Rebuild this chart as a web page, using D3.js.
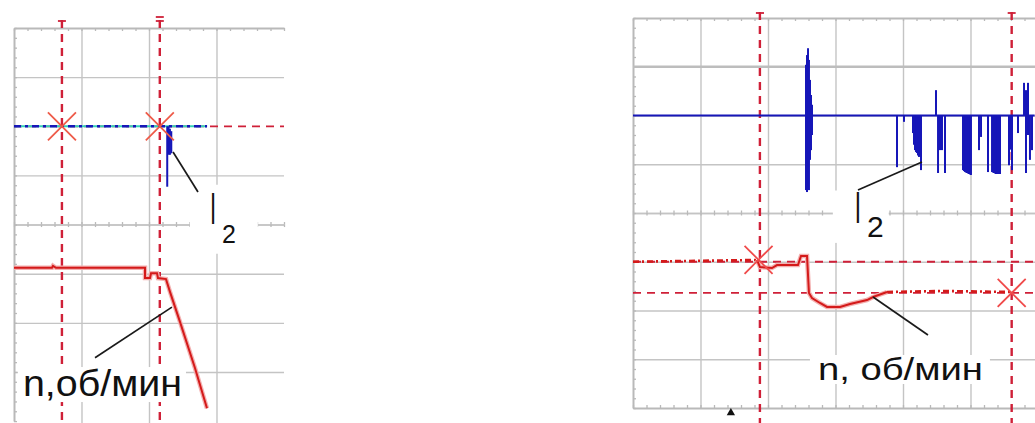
<!DOCTYPE html>
<html><head><meta charset="utf-8">
<script src="https://cdn.jsdelivr.net/npm/d3@7"></script>
<style>
html,body{margin:0;padding:0;background:#fff}
svg{display:block}
.grid line{stroke:#c4c4c4;stroke-width:1.4}
.grid path{display:none}
.edge path{stroke:#b9b9b9;stroke-width:2}
.edge line{stroke:#b9b9b9;stroke-width:1.3}
.edge text{display:none}
</style>
</head><body>
<svg id="c" width="1035" height="423"></svg>
<script>
// ===== DATA (oscilloscope screen divisions) =====
// left oscillogram
const leftGridX = [1, 2, 3];
const leftGridY = [3, 1, -1, -2, -3];
const leftCursorsX = [0.71, 2.16];
const leftCursorLevel = 2.0;
const leftMarkers = [[0.71, 2.0], [2.16, 2.0]];
const leftI2Trace = [[0, 2.0], [2.86, 2.0]];
const leftI2Spikes = [[2.27, 0.77, 2.0], [2.29, 1.42, 2.0], [2.31, 1.42, 1.95], [2.33, 1.45, 1.9]];
const leftNTrace = [[0, -0.88], [0.563, -0.88], [0.578, -0.84], [0.622, -0.88], [1.941, -0.88],
  [1.941, -1.09], [2.015, -1.09], [2.03, -0.99], [2.119, -0.99], [2.133, -1.09], [2.252, -1.11],
  [2.311, -1.37], [2.459, -1.98], [2.681, -2.92], [2.859, -3.74]];
const leftI2Leader = [[2.356, 1.477], [2.726, 0.663]];
const leftNLeader = [[2.34, -1.68], [1.2, -2.71]];
const leftI2LabelPos = [2.948, 0.012, 3.08, -0.37];
const leftNLabelPos = [0.133, -3.49];

// right oscillogram
const rightGridX = [1, 2, 3, 4, 5];
const rightGridY = [3, 2, 1, -1, -2, -3];
const rightCursorsX = [1.88, 5.61];
const rightCursorLevels = [-1.0, -1.64];
const rightMarkers = [[1.86, -0.96], [5.61, -1.64]];
const rightI2Base = [[0, 2.0], [5.95, 2.0]];
const rightI2Spikes = [
  [2.563, 0.47, 3.04], [2.578, 0.43, 3.24], [2.593, 0.57, 3.38], [2.607, 0.47, 3.14],
  [2.622, 1.09, 2.73], [2.637, 1.29, 2.42], [2.652, 1.60, 2.22],
  [3.911, 0.94, 2.0], [4.015, 1.87, 2.0],
  [4.148, 1.64, 2.0], [4.163, 1.40, 2.0], [4.178, 1.29, 2.0], [4.193, 1.25, 2.0], [4.207, 1.23, 2.0],
  [4.222, 1.18, 2.0], [4.237, 1.15, 2.0], [4.252, 1.35, 2.0], [4.267, 0.88, 2.0],
  [4.489, 2.0, 2.52], [4.519, 0.82, 2.0], [4.533, 1.30, 2.0], [4.548, 1.29, 2.0], [4.578, 1.29, 2.0],
  [4.622, 0.82, 2.0],
  [4.889, 0.88, 2.0], [4.904, 0.86, 2.0], [4.919, 0.84, 2.0], [4.933, 0.83, 2.0], [4.948, 0.82, 2.0],
  [4.963, 0.81, 2.0], [4.978, 0.80, 2.0], [4.993, 0.79, 2.0], [5.007, 0.78, 2.0],
  [5.126, 1.29, 2.0], [5.156, 1.56, 2.0],
  [5.259, 0.84, 2.0], [5.319, 0.84, 2.0], [5.333, 0.83, 2.0], [5.348, 0.82, 2.0], [5.363, 0.81, 2.0],
  [5.378, 0.80, 2.0], [5.393, 0.80, 2.0], [5.407, 0.80, 2.0], [5.422, 0.80, 2.0], [5.437, 0.80, 2.0],
  [5.570, 0.98, 2.0], [5.585, 1.30, 2.0], [5.615, 0.88, 2.0], [5.704, 1.64, 2.0],
  [5.793, 2.0, 2.67], [5.822, 0.82, 2.52], [5.852, 1.60, 2.67], [5.881, 1.09, 2.0], [5.911, 1.29, 2.0]
];
const rightNPre = [[0, -1.0], [0.99, -0.98], [1.837, -0.964]];
const rightNTrace = [[1.837, -0.964], [1.881, -1.108], [2.059, -1.128], [2.133, -1.067], [2.444, -1.067],
  [2.489, -0.882], [2.578, -0.882], [2.607, -1.641], [2.652, -1.744], [2.77, -1.846], [2.874, -1.928],
  [3.067, -1.928], [3.215, -1.867], [3.467, -1.785], [3.556, -1.723], [3.763, -1.621]];
const rightNPost = [[3.763, -1.621], [4.6, -1.60], [5.615, -1.62]];
const rightI2Leader = [[4.281, 1.046], [3.333, 0.472]];
const rightNLeader = [[3.556, -1.723], [4.37, -2.503]];
const rightI2LabelPos = [3.333, -0.205, 3.467, -0.49];
const rightNLabelPos = [2.74, -3.426];
const rightTrigger = [1.45, -4.1];

const labelI = "I", labelSub = "2";
const leftNText = "n,об/мин", rightNText = "n, об/мин";

// ===== LAYOUT =====
const svg = d3.select('#c');
const layers = {};
['grid', 'cursor', 'box', 'trace', 'text'].forEach(k => layers[k] = svg.append('g'));

const CUR = '#cf2038', MARK = '#ee5a48', BLUE = '#1616b8', RED = '#d41a1a';

function makePanel(xr, yr, xDom) {
  const x = d3.scaleLinear().domain(xDom).range(xr);
  const y = d3.scaleLinear().domain([4, -4]).range(yr);
  return {x, y};
}

const L = makePanel([14, 284], [28, 421.1], [0, 4]);
const R = makePanel([633, 1038], [18, 408], [0, 6]);

function grid(P, gx, gy, bottomY, opts) {
  const g = layers.grid;
  const x = P.x, y = P.y;
  const x0 = x.range()[0], x1 = x.range()[1];
  const yTop = y(4);
  // vertical grid lines
  g.append('g').attr('class', 'grid').attr('transform', `translate(0,${bottomY})`)
    .call(d3.axisBottom(x).tickValues(gx).tickSize(-(bottomY - yTop)).tickFormat(''));
  // horizontal grid lines
  g.append('g').attr('class', 'grid').attr('transform', `translate(${x0},0)`)
    .call(d3.axisLeft(y).tickValues(gy).tickSize(-(x1 - x0)).tickFormat(''));
  const minorX = d3.range(x.domain()[0], x.domain()[1] + 0.001, 0.2);
  const minorY = d3.range(-4, 4.001, 0.2);
  // center axis with ticks both sides
  g.append('g').attr('class', 'edge').attr('transform', `translate(0,${y(0)})`)
    .call(d3.axisTop(x).tickValues(minorX).tickSize(2.5).tickSizeOuter(0).tickFormat(''))
    .select('path').style('stroke-width', 1.4).style('stroke', '#c4c4c4');
  g.append('g').attr('class', 'edge').attr('transform', `translate(0,${y(0)})`)
    .call(d3.axisBottom(x).tickValues(minorX).tickSize(2.5).tickSizeOuter(0).tickFormat(''))
    .select('path').style('stroke-width', 1.4).style('stroke', '#c4c4c4');
  // top border
  g.append('g').attr('class', 'edge').attr('transform', `translate(0,${yTop})`)
    .call(d3.axisBottom(x).tickValues(minorX).tickSize(3).tickSizeOuter(0).tickFormat(''));
  // left edge
  g.append('g').attr('class', 'edge').attr('transform', `translate(${x0},0)`)
    .call(d3.axisRight(y).tickValues(minorY).tickSize(3).tickSizeOuter(0).tickFormat(''));
  if (opts && opts.bottom) {
    g.append('g').attr('class', 'edge').attr('transform', `translate(0,${y(-4)})`)
      .call(d3.axisTop(x).tickValues(minorX).tickSize(3).tickSizeOuter(0).tickFormat(''));
  }
}

grid(L, leftGridX, leftGridY, 423);
grid(R, rightGridX, rightGridY, R.y(-4), {bottom: true});
// thicker line in right screen
layers.grid.append('line').attr('x1', R.x(0)).attr('x2', 1035).attr('y1', R.y(3)).attr('y2', R.y(3))
  .attr('stroke', '#bdbdbd').attr('stroke-width', 2.6);

// ===== CURSORS =====
function cursors(P, xs, topY, botY, doubleIdx) {
  const g = layers.cursor;
  g.selectAll(null).data(xs).enter().append('line')
    .attr('x1', d => P.x(d)).attr('x2', d => P.x(d))
    .attr('y1', topY).attr('y2', botY)
    .attr('stroke', CUR).attr('stroke-width', 2.4).attr('stroke-dasharray', '8,6');
  xs.forEach((d, i) => {
    const cx = P.x(d);
    g.append('line').attr('x1', cx - 4).attr('x2', cx + 4).attr('y1', topY + 1).attr('y2', topY + 1)
      .attr('stroke', CUR).attr('stroke-width', 1.8);
    if (i === doubleIdx) {
      g.append('line').attr('x1', cx - 4).attr('x2', cx + 4).attr('y1', topY - 3).attr('y2', topY - 3)
        .attr('stroke', CUR).attr('stroke-width', 1.8);
    }
  });
}
cursors(L, leftCursorsX, 20, 423, 1);
cursors(R, rightCursorsX, 12, 423, -1);

// horizontal level cursors
layers.cursor.append('line').attr('x1', L.x(0)).attr('x2', L.x(4))
  .attr('y1', L.y(leftCursorLevel)).attr('y2', L.y(leftCursorLevel))
  .attr('stroke', CUR).attr('stroke-width', 1.8).attr('stroke-dasharray', '8,6');
layers.cursor.selectAll(null).data(rightCursorLevels).enter().append('line')
  .attr('x1', R.x(0)).attr('x2', 1035).attr('y1', d => R.y(d)).attr('y2', d => R.y(d))
  .attr('stroke', CUR).attr('stroke-width', 1.8).attr('stroke-dasharray', '8,6');

// ===== TRACES =====
const line = P => d3.line().x(d => P.x(d[0])).y(d => P.y(d[1]));
const T = layers.trace;

// left I2
T.append('path').attr('d', line(L)(leftI2Trace)).attr('fill', 'none')
  .attr('stroke', '#35d0b8').attr('stroke-width', 2);
T.append('path').attr('d', line(L)(leftI2Trace)).attr('fill', 'none')
  .attr('stroke', BLUE).attr('stroke-width', 2.4).attr('stroke-dasharray', '7,4,3,4');
T.selectAll(null).data(leftI2Spikes).enter().append('line')
  .attr('x1', d => L.x(d[0])).attr('x2', d => L.x(d[0]))
  .attr('y1', d => L.y(d[1])).attr('y2', d => L.y(d[2]))
  .attr('stroke', BLUE).attr('stroke-width', 2);

// left n
T.append('path').attr('d', line(L)(leftNTrace)).attr('fill', 'none')
  .attr('stroke', '#f3b0b0').attr('stroke-width', 4.5);
T.append('path').attr('d', line(L)(leftNTrace)).attr('fill', 'none')
  .attr('stroke', RED).attr('stroke-width', 2);

// right I2
T.append('path').attr('d', line(R)(rightI2Base)).attr('fill', 'none')
  .attr('stroke', BLUE).attr('stroke-width', 2.2);
T.selectAll(null).data(rightI2Spikes).enter().append('line')
  .attr('x1', d => R.x(d[0])).attr('x2', d => R.x(d[0]))
  .attr('y1', d => R.y(d[1])).attr('y2', d => R.y(d[2]))
  .attr('stroke', BLUE).attr('stroke-width', 2);

// right n
[rightNPre, rightNPost].forEach(s => {
  T.append('path').attr('d', line(R)(s)).attr('fill', 'none')
    .attr('stroke', RED).attr('stroke-width', 2.6).attr('stroke-dasharray', '6,3,2,3');
});
T.append('path').attr('d', line(R)(rightNTrace)).attr('fill', 'none')
  .attr('stroke', '#f3b0b0').attr('stroke-width', 4.5);
T.append('path').attr('d', line(R)(rightNTrace)).attr('fill', 'none')
  .attr('stroke', RED).attr('stroke-width', 2);

// markers (X)
function markers(P, pts, color) {
  pts.forEach(p => {
    const cx = P.x(p[0]), cy = P.y(p[1]), s = 14;
    [[-1, -1, 1, 1], [-1, 1, 1, -1]].forEach(k => {
      T.append('line').attr('x1', cx + k[0] * s).attr('y1', cy + k[1] * s)
        .attr('x2', cx + k[2] * s).attr('y2', cy + k[3] * s)
        .attr('stroke', color).attr('stroke-width', 1.8);
    });
  });
}
markers(L, leftMarkers, MARK);
markers(R, rightMarkers, '#f04a4a');

// trigger mark
T.append('path').attr('d', d3.symbol(d3.symbolTriangle, 30)())
  .attr('transform', `translate(${R.x(rightTrigger[0])},${R.y(rightTrigger[1])})`).attr('fill', '#111');

// leaders
[[L, leftI2Leader], [L, leftNLeader], [R, rightI2Leader], [R, rightNLeader]].forEach(([P, d]) => {
  T.append('path').attr('d', line(P)(d)).attr('fill', 'none')
    .attr('stroke', '#1a1a1a').attr('stroke-width', 1.7);
});

// ===== LABELS =====
const X = layers.text;
function boxFor(node, pad) {
  const b = node.getBBox();
  layers.box.append('rect').attr('x', b.x - pad[0]).attr('y', b.y - pad[1])
    .attr('width', b.width + pad[0] + pad[2]).attr('height', b.height + pad[1] + pad[3])
    .attr('fill', '#fff');
}
function i2Label(P, pos, iSize, subSize, pad) {
  const g = X.append('g');
  g.append('text').text(labelI)
    .attr('transform', `translate(${P.x(pos[0])},${P.y(pos[1])}) scale(0.5,1)`)
    .attr('text-anchor', 'middle').attr('font-family', 'Liberation Sans, Arial, sans-serif')
    .attr('font-size', iSize).attr('fill', '#111');
  g.append('text').text(labelSub).attr('x', P.x(pos[2])).attr('y', P.y(pos[3]))
    .attr('font-family', 'Liberation Sans, Arial, sans-serif')
    .attr('font-size', subSize).attr('fill', '#111');
  boxFor(g.node(), pad);
}
i2Label(L, leftI2LabelPos, 44, 25, [20, 0, 22, 6]);
i2Label(R, rightI2LabelPos, 45, 30, [22, -8, 5, 0]);

function nLabel(P, pos, txt, size, len, pad) {
  const t = X.append('text').text(txt).attr('x', P.x(pos[0])).attr('y', P.y(pos[1]))
    .attr('font-family', 'Liberation Sans, Arial, sans-serif').attr('font-size', size)
    .attr('fill', '#111').attr('textLength', len).attr('lengthAdjust', 'spacingAndGlyphs');
  boxFor(t.node(), pad);
}
nLabel(L, leftNLabelPos, leftNText, 36, 159, [5, -4, 4, -2]);
nLabel(R, rightNLabelPos, rightNText, 31, 165, [8, -3, 7, -3]);
</script>
</body></html>
